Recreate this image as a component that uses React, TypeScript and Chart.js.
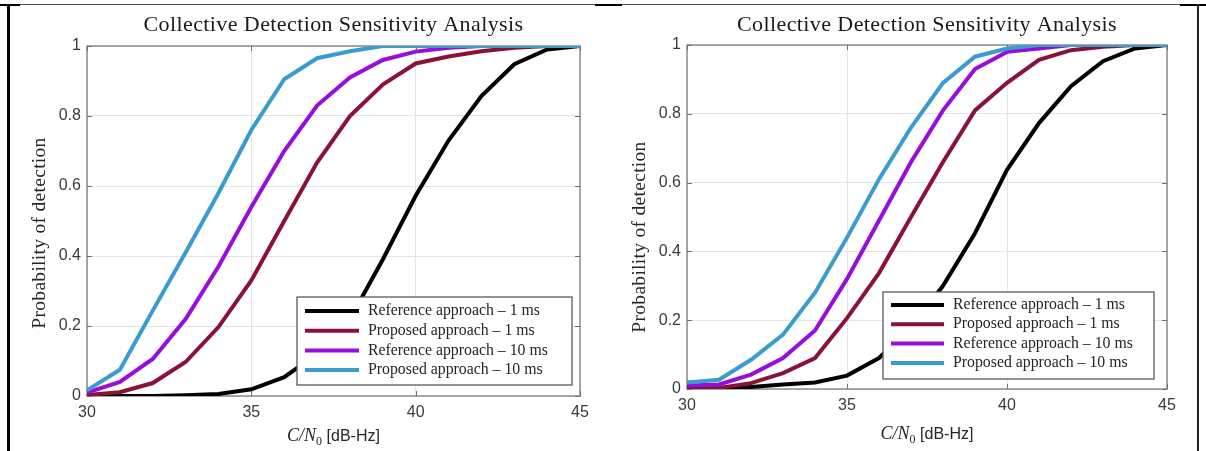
import React, { useEffect, useRef } from "react";
import { Chart, registerables } from "chart.js";

Chart.register(...registerables);

// ---------- data ----------
const cn0 = [30, 31, 32, 33, 34, 35, 36, 37, 38, 39, 40, 41, 42, 43, 44, 45];
const xTicks = [30, 35, 40, 45];
const yTicks = [0, 0.2, 0.4, 0.6, 0.8, 1];

const chartTitle = "Collective Detection Sensitivity Analysis";
const yLabel = "Probability of detection";

const seriesNames = [
  "Reference approach – 1 ms",
  "Proposed approach – 1 ms",
  "Reference approach – 10 ms",
  "Proposed approach – 10 ms",
];
const seriesColors = ["#000000", "#8a1236", "#960ddc", "#3a9bcf"];

// left panel
const leftRef1 = [0, 0, 0, 0.002, 0.006, 0.019, 0.054, 0.12, 0.22, 0.39, 0.572, 0.73, 0.857, 0.948, 0.99, 1.0];
const leftProp1 = [0.003, 0.011, 0.037, 0.097, 0.197, 0.33, 0.5, 0.667, 0.8, 0.89, 0.95, 0.97, 0.985, 0.995, 1.0, 1.0];
const leftRef10 = [0.01, 0.04, 0.106, 0.22, 0.37, 0.54, 0.7, 0.83, 0.91, 0.96, 0.984, 0.995, 1.0, 1.0, 1.0, 1.0];
const leftProp10 = [0.016, 0.075, 0.244, 0.41, 0.58, 0.76, 0.905, 0.965, 0.985, 1.0, 1.0, 1.0, 1.0, 1.0, 1.0, 1.0];

// right panel
const rightRef1 = [0, 0.001, 0.006, 0.013, 0.019, 0.039, 0.09, 0.18, 0.3, 0.453, 0.637, 0.773, 0.88, 0.953, 0.99, 1.0];
const rightProp1 = [0.003, 0.003, 0.017, 0.046, 0.09, 0.206, 0.337, 0.5, 0.66, 0.81, 0.89, 0.957, 0.985, 0.995, 1.0, 1.0];
const rightRef10 = [0.01, 0.013, 0.042, 0.09, 0.17, 0.32, 0.49, 0.66, 0.81, 0.93, 0.98, 0.99, 1.0, 1.0, 1.0, 1.0];
const rightProp10 = [0.019, 0.027, 0.085, 0.158, 0.28, 0.44, 0.61, 0.76, 0.89, 0.966, 0.99, 1.0, 1.0, 1.0, 1.0, 1.0];

// ---------- layout configs ----------
type Panel = {
  series: number[][];
  canvasLeft: number;
  plotLeft: number;
  plotRight: number;
  plotTop: number;
  plotBottom: number;
  titleY: number;
  yLabelX: number;
  yLabelY: number;
  xLabelY: number;
  legRight: number;
  legBottom: number;
  legW: number;
  legH: number;
  legRow0: number;
  legStep: number;
  legSample: number;
  legSampleLen: number;
  legText: number;
};

const CW = 590;
const CH = 451;

const leftPanel: Panel = {
  series: [leftRef1, leftProp1, leftRef10, leftProp10],
  canvasLeft: 10,
  plotLeft: 77,
  plotRight: 570,
  plotTop: 46,
  plotBottom: 396,
  titleY: 25,
  yLabelX: 30,
  yLabelY: 233,
  xLabelY: 435,
  legRight: 8,
  legBottom: 11,
  legW: 275,
  legH: 88,
  legRow0: 14,
  legStep: 19.7,
  legSample: 8,
  legSampleLen: 54,
  legText: 71,
};

const rightPanel: Panel = {
  series: [rightRef1, rightProp1, rightRef10, rightProp10],
  canvasLeft: 607,
  plotLeft: 80,
  plotRight: 560,
  plotTop: 45,
  plotBottom: 389,
  titleY: 25,
  yLabelX: 32.5,
  yLabelY: 237,
  xLabelY: 433,
  legRight: 13,
  legBottom: 10,
  legW: 271,
  legH: 87,
  legRow0: 13,
  legStep: 19.3,
  legSample: 8,
  legSampleLen: 53,
  legText: 70,
};

const SERIF = '"Liberation Serif", "Times New Roman", serif';
const SANS = '"Liberation Sans", Arial, sans-serif';

function decorPlugin(p: Panel) {
  return {
    id: "decor",
    beforeDatasetsDraw(chart: any) {
      const { ctx, chartArea: a, scales } = chart;
      ctx.save();
      ctx.strokeStyle = "#8c8c8c";
      ctx.lineWidth = 1.5;
      ctx.strokeRect(a.left, a.top, a.right - a.left, a.bottom - a.top);
      ctx.lineWidth = 1;
      ctx.strokeStyle = "#6e6e6e";
      ctx.beginPath();
      xTicks.forEach((v) => {
        const px = Math.round(scales.x.getPixelForValue(v)) + 0.5;
        ctx.moveTo(px, a.bottom);
        ctx.lineTo(px, a.bottom - 5);
        ctx.moveTo(px, a.top);
        ctx.lineTo(px, a.top + 5);
      });
      yTicks.forEach((v) => {
        const py = Math.round(scales.y.getPixelForValue(v)) + 0.5;
        ctx.moveTo(a.left, py);
        ctx.lineTo(a.left + 5, py);
        ctx.moveTo(a.right, py);
        ctx.lineTo(a.right - 5, py);
      });
      ctx.stroke();
      ctx.restore();
    },
    afterDatasetsDraw(chart: any) {
      const { ctx, chartArea: a } = chart;
      ctx.save();
      const bx = a.right - p.legRight - p.legW;
      const by = a.bottom - p.legBottom - p.legH;
      ctx.fillStyle = "#ffffff";
      ctx.fillRect(bx, by, p.legW, p.legH);
      ctx.strokeStyle = "#5a5a5a";
      ctx.lineWidth = 1.3;
      ctx.strokeRect(bx, by, p.legW, p.legH);
      ctx.font = `15.8px ${SERIF}`;
      ctx.textBaseline = "middle";
      ctx.textAlign = "left";
      seriesNames.forEach((name, i) => {
        const ry = by + p.legRow0 + i * p.legStep;
        ctx.strokeStyle = seriesColors[i];
        ctx.lineWidth = 4;
        ctx.beginPath();
        ctx.moveTo(bx + p.legSample, ry);
        ctx.lineTo(bx + p.legSample + p.legSampleLen, ry);
        ctx.stroke();
        ctx.fillStyle = "#262626";
        ctx.fillText(name, bx + p.legText, ry);
      });
      ctx.restore();
    },
    afterDraw(chart: any) {
      const { ctx, chartArea: a } = chart;
      const cx = (a.left + a.right) / 2;
      ctx.save();
      // title
      ctx.fillStyle = "#1a1a1a";
      ctx.font = `22px ${SERIF}`;
      (ctx as any).letterSpacing = "0.4px";
      ctx.textAlign = "center";
      ctx.textBaseline = "middle";
      ctx.fillText(chartTitle, cx, p.titleY);
      // y label
      ctx.save();
      ctx.translate(p.yLabelX, p.yLabelY);
      ctx.rotate(-Math.PI / 2);
      ctx.font = `19.5px ${SERIF}`;
      (ctx as any).letterSpacing = "0.3px";
      ctx.fillStyle = "#262626";
      ctx.fillText(yLabel, 0, 0);
      ctx.restore();
      (ctx as any).letterSpacing = "0px";
      // x label: C/N0 [dB-Hz]
      const partA = "C/N";
      const partB = "0";
      const partC = " [dB-Hz]";
      const fA = `italic 18px ${SERIF}`;
      const fB = `12px ${SERIF}`;
      const fC = `16px ${SANS}`;
      ctx.font = fA;
      const wA = ctx.measureText(partA).width;
      ctx.font = fB;
      const wB = ctx.measureText(partB).width;
      ctx.font = fC;
      const wC = ctx.measureText(partC).width;
      let x0 = cx - (wA + wB + wC) / 2;
      const base = p.xLabelY + 6;
      ctx.textAlign = "left";
      ctx.textBaseline = "alphabetic";
      ctx.fillStyle = "#262626";
      ctx.font = fA;
      ctx.fillText(partA, x0, base);
      x0 += wA;
      ctx.font = fB;
      ctx.fillText(partB, x0, base + 4);
      x0 += wB;
      ctx.font = fC;
      ctx.fillText(partC, x0, base);
      ctx.restore();
    },
  };
}

function PanelChart({ p }: { p: Panel }) {
  const ref = useRef<HTMLCanvasElement | null>(null);
  useEffect(() => {
    if (!ref.current) return;
    const datasets = p.series.map((arr, i) => ({
      label: seriesNames[i],
      data: cn0.map((x, j) => ({ x, y: arr[j] })),
      borderColor: seriesColors[i],
      backgroundColor: seriesColors[i],
      borderWidth: 4,
      pointRadius: 0,
      tension: 0,
      fill: false,
      order: 3 - i,
    }));
    const chart = new Chart(ref.current, {
      type: "line",
      data: { datasets },
      options: {
        animation: false,
        responsive: false,
        events: [],
        layout: {
          padding: { left: 0, top: p.plotTop, right: CW - p.plotRight, bottom: 0 },
        },
        plugins: {
          legend: { display: false },
          title: { display: false },
          tooltip: { enabled: false },
        },
        scales: {
          x: {
            type: "linear",
            min: 30,
            max: 45,
            afterBuildTicks: (s: any) => {
              s.ticks = xTicks.map((v) => ({ value: v }));
            },
            afterFit: (s: any) => {
              s.height = CH - p.plotBottom;
            },
            grid: { color: "#e4e4e4", lineWidth: 1, drawTicks: false },
            border: { display: false },
            ticks: {
              padding: 7,
              color: "#3a3a3a",
              font: { family: SANS, size: 16 },
              maxRotation: 0,
              callback: (v: any) => String(v),
            },
          },
          y: {
            type: "linear",
            min: 0,
            max: 1,
            afterBuildTicks: (s: any) => {
              s.ticks = yTicks.map((v) => ({ value: v }));
            },
            afterFit: (s: any) => {
              s.width = p.plotLeft;
            },
            grid: { color: "#e4e4e4", lineWidth: 1, drawTicks: false },
            border: { display: false },
            ticks: {
              padding: 6,
              color: "#3a3a3a",
              font: { family: SANS, size: 16 },
              callback: (v: any) => String(v),
            },
          },
        },
      },
      plugins: [decorPlugin(p)],
    } as any);
    return () => chart.destroy();
  }, [p]);
  return (
    <canvas
      ref={ref}
      width={CW}
      height={CH}
      style={{ position: "absolute", left: p.canvasLeft, top: 0, width: CW, height: CH, display: "block" }}
    />
  );
}

export default function App() {
  const bar = (left: number, top: number, width: number, height: number, bg: string) => (
    <div style={{ position: "absolute", left, top, width, height, background: bg }} />
  );
  return (
    <div
      style={{
        position: "absolute",
        left: 0,
        top: 0,
        width: 1206,
        height: 451,
        background: "#ffffff",
        overflow: "hidden",
      }}
    >
      <PanelChart p={leftPanel} />
      <PanelChart p={rightPanel} />
      {bar(0, 4, 1206, 1, "#4a4a4a")}
      {bar(0, 4, 20, 2, "#000")}
      {bar(595, 4, 27, 2, "#000")}
      {bar(1180, 4, 26, 2, "#000")}
      {bar(7, 4, 3, 447, "#000")}
      {bar(1197, 4, 2, 447, "#222")}
    </div>
  );
}
